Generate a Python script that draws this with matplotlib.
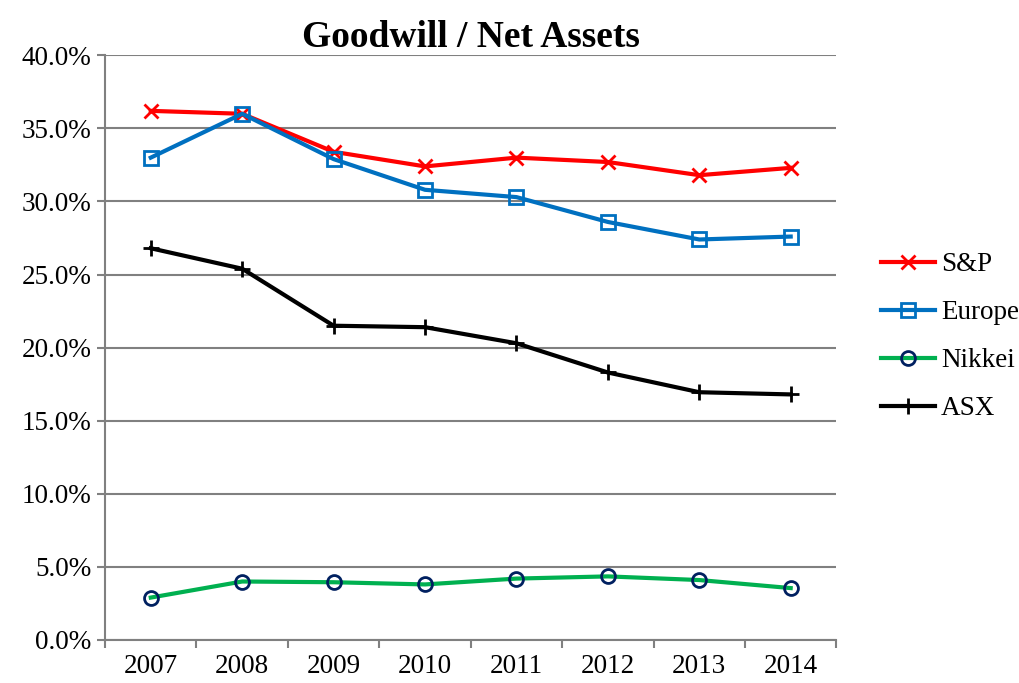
import numpy as np
import matplotlib
matplotlib.use("Agg")
import matplotlib.pyplot as plt
from matplotlib.ticker import FuncFormatter

plt.rcParams['font.family'] = ['Liberation Serif', 'DejaVu Serif']

years = ['2007', '2008', '2009', '2010', '2011', '2012', '2013', '2014']
sp = [36.2, 36.0, 33.4, 32.4, 33.0, 32.7, 31.8, 32.3]
europe = [33.0, 36.0, 32.9, 30.8, 30.3, 28.6, 27.4, 27.6]
nikkei = [2.9, 4.0, 3.95, 3.8, 4.2, 4.35, 4.1, 3.55]
asx = [26.8, 25.4, 21.5, 21.4, 20.3, 18.3, 16.95, 16.8]

fig = plt.figure(figsize=(10.2, 6.83), dpi=100)
ax = fig.add_axes([0.103, 0.063, 0.717, 0.856])

x = np.arange(len(years))
ax.plot(x, sp, color='#ff0000', lw=3, marker='x', ms=10, mew=2, label='S&P')
ax.plot(x, europe, color='#0070c0', lw=3, marker='s', ms=10, mew=2,
        mfc='none', label='Europe')
ax.plot(x, nikkei, color='#00b050', lw=3, marker='o', ms=10, mew=2,
        mfc='none', mec='#002060', label='Nikkei')
ax.plot(x, asx, color='#000000', lw=3, marker='+', ms=12, mew=2, label='ASX')

ax.set_xlim(-0.5, len(years) - 0.5)
ax.set_ylim(0, 40)
ax.set_yticks(np.arange(0, 41, 5))
ax.yaxis.set_major_formatter(FuncFormatter(lambda v, p: f'{v:.1f}%'))
ax.set_xticks(x)
ax.set_xticklabels(years)
ax.set_xticks(np.arange(-0.5, len(years), 1), minor=True)
ax.tick_params(axis='x', which='major', length=0, pad=10)
ax.tick_params(axis='x', which='minor', length=6, width=1.5, color='#808080', direction='out')
ax.tick_params(axis='y', length=6, width=1.5, color='#808080', direction='out', pad=4)
ax.tick_params(labelsize=19.5)

ax.grid(axis='y', color='#808080', lw=1.5)
ax.set_axisbelow(True)
for s in ['top', 'right']:
    ax.spines[s].set_visible(False)
for s in ['left', 'bottom']:
    ax.spines[s].set_color('#808080')
    ax.spines[s].set_linewidth(1.5)

ax.set_title('Goodwill / Net Assets', fontsize=27, fontweight='bold', pad=6)

fig.legend(loc='center left', bbox_to_anchor=(0.864, 0.507), frameon=False,
           fontsize=19.5, labelspacing=0.85, handlelength=2.0, handletextpad=0.2,
           borderpad=0, borderaxespad=0)

fig.savefig('out.png', dpi=100)
